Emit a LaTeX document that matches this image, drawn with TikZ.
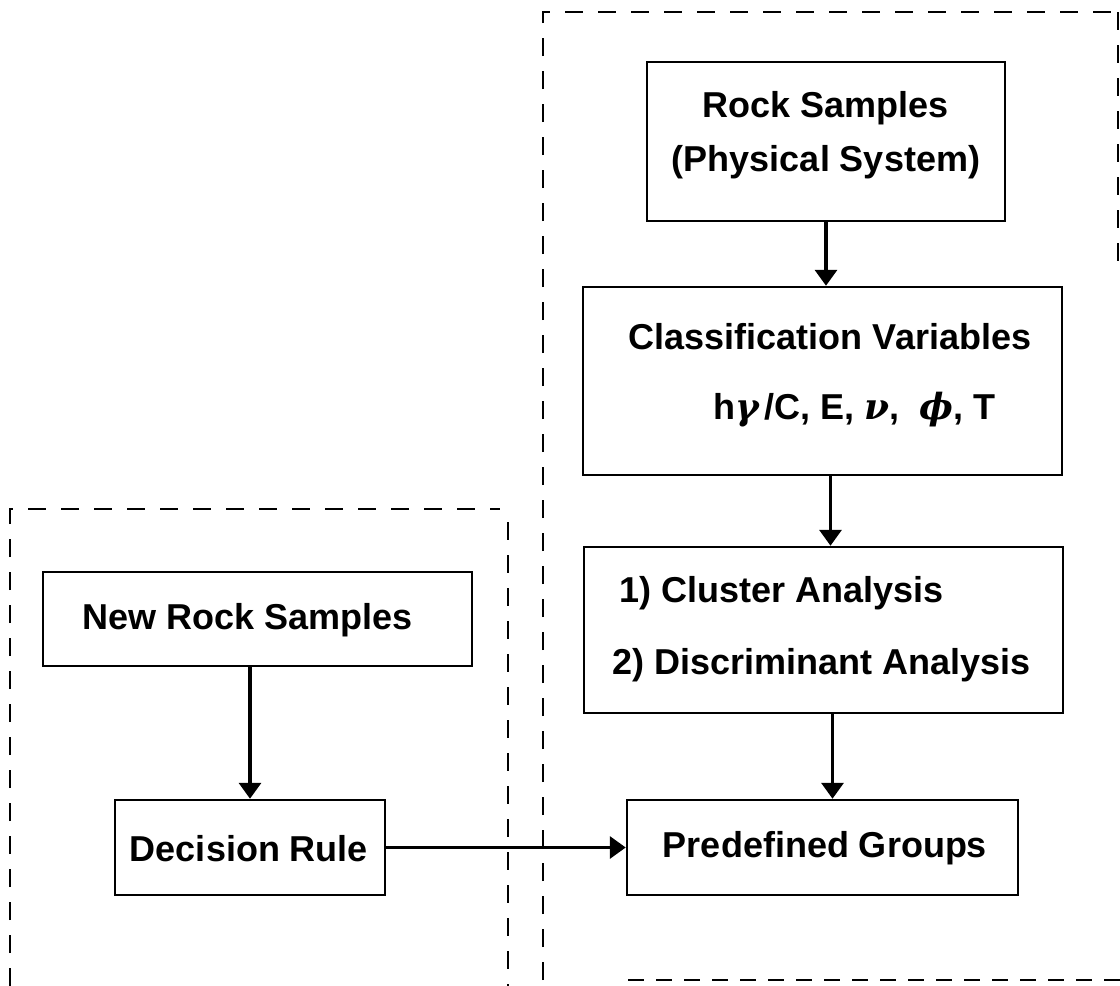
\documentclass[tikz,border=0pt]{standalone}
\usepackage{fontspec}
\setmainfont{Liberation Sans}
\newfontfamily\grk{DejaVu Serif}
\usetikzlibrary{arrows.meta}
\begin{document}
\begin{tikzpicture}[x=1pt,y=-1pt,
  box/.style={draw,line width=2.5pt,rectangle,inner sep=0pt},
  txt/.style={inner sep=0pt,font=\fontsize{36}{54}\selectfont\bfseries},
  arr/.style={line width=3.5pt,-{Triangle[width=22pt,length=16pt]}},
  dsh/.style={line width=2pt,dash pattern=on 18pt off 15pt}]
\useasboundingbox (0,0) rectangle (1120,986);
% dashed frames
\draw[dsh] (543,980) -- (543,12) -- (1118,12);
\draw[dsh] (1118,12) -- (1118,265);
\draw[dsh,dash pattern=on 16pt off 12pt] (628,980) -- (1120,980);
\draw[dsh] (10,986) -- (10,509) -- (500,509);
\draw[dsh] (508,522) -- (508,986);
% boxes
\node[box,minimum width=358pt,minimum height=159pt] (rock) at (826,141.5) {};
\node[txt,align=center] (rockt) at (826,135) {Rock Samples\\(Physical System)};
\node[box,minimum width=479pt,minimum height=188pt] (class) at (822.5,381) {};
\node[txt] (classt) at (830,337) {Classification Variables};
\node[txt,anchor=west] (classv) at (713,410) {h{\grk\itshape γ}\,/C,\ E,\ {\grk\itshape ν},\ \ {\grk\itshape ϕ}, T};
\node[box,minimum width=479pt,minimum height=166pt] (clus) at (823.5,630) {};
\node[txt,font=\fontsize{36}{72}\selectfont\bfseries,align=left,anchor=west] (clust) at (612,629)
  {\hspace{7pt}1)\ Cluster Analysis\\2)\ Discriminant Analysis};
\node[box,minimum width=391pt,minimum height=95pt] (pre) at (822.5,847.5) {};
\node[txt] (pret) at (825,848) {Predefined Groups};
\node[box,minimum width=429pt,minimum height=94pt] (nrs) at (257.5,619) {};
\node[txt,anchor=west] (nrst) at (82,620) {New Rock Samples};
\node[box,minimum width=270pt,minimum height=95pt] (dec) at (250,847.5) {};
\node[txt] (dect) at (249,849) {Decision Rule};
% arrows
\draw[arr] (rock.south) -- (rock.south |- class.north);
\draw[arr] ([xshift=8pt]class.south) -- ([xshift=8pt]class.south |- clus.north);
\draw[arr] ([xshift=9pt]clus.south) -- ([xshift=9pt]clus.south |- pre.north);
\draw[arr] (dec.north |- nrs.south) -- (dec.north);
\draw[arr] (dec.east) -- (pre.west);
\end{tikzpicture}
\end{document}
